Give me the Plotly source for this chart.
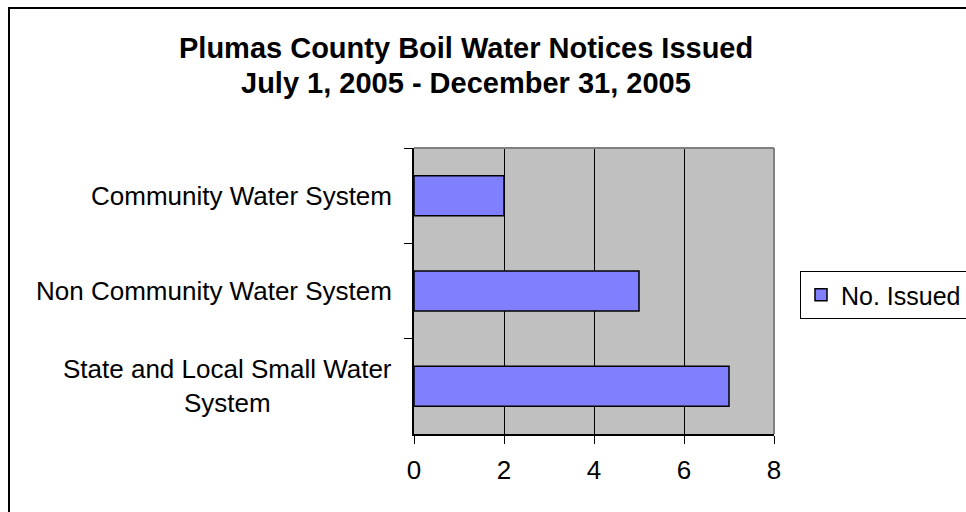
import plotly.graph_objects as go

# data
categories = [
    "Community Water System",
    "Non Community Water System",
    "State and Local Small Water<br>System",
]
issued = [2, 5, 7]
x_ticks = [0, 2, 4, 6, 8]
title_lines = [
    "Plumas County Boil Water Notices Issued",
    "July 1, 2005 - December 31, 2005",
]

FONT = "Liberation Sans, Arial, sans-serif"
W, H = 966, 512
# plot area in pixels
L, R, T, B = 414, 774, 148, 434


def px_x(p):
    return (p - L) / (R - L)


def px_y(p):
    return (B - p) / (B - T)


fig = go.Figure()

fig.add_trace(go.Bar(
    x=issued,
    y=categories,
    orientation="h",
    name="No. Issued",
    marker=dict(color="#8080FF", line=dict(color="#000000", width=1.5)),
))

# category labels, centred like Excel does it
for cat in categories:
    fig.add_annotation(
        x=0, xref="paper", y=cat, yref="y",
        text=cat, showarrow=False,
        xanchor="right", yanchor="middle", xshift=-20,
        align="center",
        font=dict(family=FONT, size=26, color="#000000"),
    )

# two-line bold title
for line, yc in zip(title_lines, [48, 83]):
    fig.add_annotation(
        x=px_x(466), xref="paper", y=px_y(yc), yref="paper",
        text=f"<b>{line}</b>", showarrow=False,
        xanchor="center", yanchor="middle",
        font=dict(family=FONT, size=29, color="#000000"),
    )

shapes = [
    # outer chart frame (runs off the right and bottom edge)
    dict(type="rect", xref="paper", yref="paper",
         x0=px_x(9), x1=px_x(1000), y0=px_y(540), y1=px_y(8),
         line=dict(color="#000000", width=2), layer="below"),
    # plot-area border on top and right
    dict(type="line", xref="paper", yref="paper",
         x0=0, x1=1, y0=1, y1=1, line=dict(color="#808080", width=2), layer="above"),
    dict(type="line", xref="paper", yref="paper",
         x0=1, x1=1, y0=0, y1=1, line=dict(color="#808080", width=2), layer="above"),
]

fig.update_layout(
    width=W, height=H,
    margin=dict(l=L, r=W - R, t=T, b=H - B, autoexpand=False),
    paper_bgcolor="#FFFFFF",
    plot_bgcolor="#C0C0C0",
    font=dict(family=FONT, color="#000000"),
    bargap=0.58,
    xaxis=dict(
        range=[0, 8], tickvals=x_ticks, ticktext=[str(v) for v in x_ticks],
        showgrid=True, gridcolor="#000000", gridwidth=1,
        zeroline=False,
        showline=True, linecolor="#000000", linewidth=1.5,
        ticks="outside", ticklen=8, tickcolor="#000000", tickwidth=1,
        ticklabelstandoff=4,
        tickfont=dict(family=FONT, size=26, color="#000000"),
        fixedrange=True,
    ),
    yaxis=dict(
        autorange="reversed",
        showgrid=False, zeroline=False,
        showline=True, linecolor="#000000", linewidth=1.5,
        ticks="outside", ticklen=8, tickcolor="#000000", tickwidth=1,
        tickson="boundaries",
        showticklabels=False,
        fixedrange=True,
    ),
    showlegend=True,
    legend=dict(
        x=800 / W, xanchor="left", xref="container",
        y=1 - 271 / H, yanchor="top", yref="container",
        bgcolor="#FFFFFF", bordercolor="#000000", borderwidth=1,
        font=dict(family=FONT, size=25, color="#000000"),
        itemwidth=30,
    ),
    shapes=shapes,
)

# the page's default body margin would shift the chart by 8px
fig.write_html(
    "out.html",
    config={"displayModeBar": False},
    post_script="document.body.style.margin = '0';",
)
